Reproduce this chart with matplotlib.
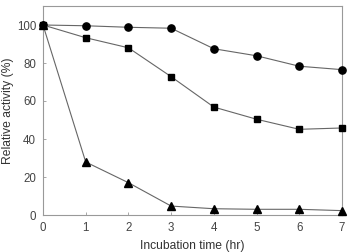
import matplotlib
matplotlib.use("Agg")
import matplotlib.pyplot as plt

plt.rcParams['font.family'] = ['Liberation Sans', 'DejaVu Sans']

hours = [0, 1, 2, 3, 4, 5, 6, 7]
circle_vals = [100, 99.6, 98.8, 98.3, 87.5, 83.8, 78.3, 76.5]
square_vals = [100, 93.3, 88.0, 72.8, 56.8, 50.4, 45.1, 45.8]
triangle_vals = [100, 27.9, 17.0, 4.7, 3.3, 3.0, 3.0, 2.3]

fig = plt.figure(figsize=(3.5, 2.52), dpi=100)
ax = fig.add_axes([43/350, 1 - 215/252, 299/350, 209/252])

line_col = '#666666'
for vals, mk, ms in [(circle_vals, 'o', 5.2), (square_vals, 's', 4.6), (triangle_vals, '^', 5.2)]:
    ax.plot(hours, vals, color=line_col, lw=0.8, marker=mk, ms=ms,
            mfc='black', mec='black', clip_on=False, zorder=3)

ax.set_xlim(0, 7)
ax.set_ylim(0, 110)
ax.set_xticks(hours)
ax.set_yticks([0, 20, 40, 60, 80, 100])
for s in ax.spines.values():
    s.set_color('#999999')
    s.set_linewidth(0.8)
ax.tick_params(direction='in', length=2, width=0.6, color='#999999',
               labelsize=8.3, labelcolor='#444444', pad=5)
ax.set_xlabel('Incubation time (hr)', fontsize=8.7, color='#333333')
ax.xaxis.set_label_coords(0.5, -31/209)
ax.xaxis.label.set_va('center')
ax.set_ylabel('Relative activity (%)', fontsize=8.7, color='#333333')
ax.yaxis.set_label_coords(-35/299, 0.5)
ax.yaxis.label.set_va('center')

fig.savefig('out.png', dpi=100)
